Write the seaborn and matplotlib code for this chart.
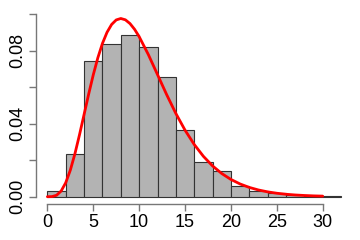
import matplotlib
matplotlib.use("Agg")
import matplotlib.pyplot as plt
import seaborn as sns

# histogram (density) values, bins of width 2 from 0 to 32
bin_edges = [0, 2, 4, 6, 8, 10, 12, 14, 16, 18, 20, 22, 24, 26, 28, 30, 32]
bar_heights = [0.0031, 0.0232, 0.0745, 0.0835, 0.0886, 0.0818, 0.0654, 0.0365,
               0.0190, 0.0141, 0.0057, 0.0031, 0.0019, 0.0009, 0.0005, 0.0003]

# red density curve
curve_x = [0, 0.5, 1, 1.5, 2, 2.5, 3, 3.5, 4, 4.5, 5, 5.5, 6, 6.5, 7, 7.5, 8,
           8.5, 9, 9.5, 10, 11, 12, 13, 14, 15, 16, 17, 18, 19, 20, 21, 22,
           23, 24, 25, 26, 27, 28, 29, 30]
curve_y = [0.0, 0.00006, 0.00079, 0.00311, 0.00766, 0.01457, 0.02353, 0.03395,
           0.04511, 0.05628, 0.06680, 0.07617, 0.08402, 0.09012, 0.09441,
           0.09689, 0.09768, 0.09695, 0.09490, 0.09176, 0.08773, 0.07791,
           0.06693, 0.05591, 0.04561, 0.03646, 0.02863, 0.02213, 0.01687,
           0.01270, 0.00946, 0.00697, 0.00509, 0.00369, 0.00265, 0.00190,
           0.00134, 0.00095, 0.00067, 0.00046, 0.00032]

x_ticks = [0, 5, 10, 15, 20, 25, 30]
y_ticks = [0.00, 0.02, 0.04, 0.06, 0.08, 0.10]
y_tick_labels = ["0.00", "", "0.04", "", "0.08", ""]

sns.set_style("white")
plt.rcParams["font.family"] = ["Liberation Sans", "DejaVu Sans"]

fig = plt.figure(figsize=(3.6, 2.4), dpi=100)
ax = fig.add_axes([0.099, 0.15, 0.881, 0.821])

centers = [(bin_edges[i] + bin_edges[i + 1]) / 2 for i in range(len(bar_heights))]
sns.histplot(x=centers, weights=bar_heights, bins=bin_edges, stat="count",
             color="#b3b3b3", edgecolor="#333333", linewidth=0.8, alpha=1.0, ax=ax)
sns.lineplot(x=curve_x, y=curve_y, color="#ff0000", linewidth=2.0, ax=ax,
             estimator=None, sort=False)

ax.set_xlim(-1.28, 33.28)
ax.set_ylim(-0.004, 0.104)
ax.set_xticks(x_ticks)
ax.set_xticklabels([str(t) for t in x_ticks])
ax.set_yticks(y_ticks)
ax.set_yticklabels(y_tick_labels, rotation=90, va="center")
ax.set_xlabel("")
ax.set_ylabel("")

for s in ["top", "right"]:
    ax.spines[s].set_visible(False)
ax.spines["left"].set_bounds(0, 0.10)
ax.spines["bottom"].set_bounds(0, 30)
for s in ["left", "bottom"]:
    ax.spines[s].set_color("#777777")
    ax.spines[s].set_linewidth(1.0)

ax.tick_params(axis="both", which="both", direction="out", length=5, width=1.0,
               color="#777777", labelsize=13, labelcolor="black", pad=2,
               bottom=True, left=True)

fig.savefig("out.png", dpi=100)
